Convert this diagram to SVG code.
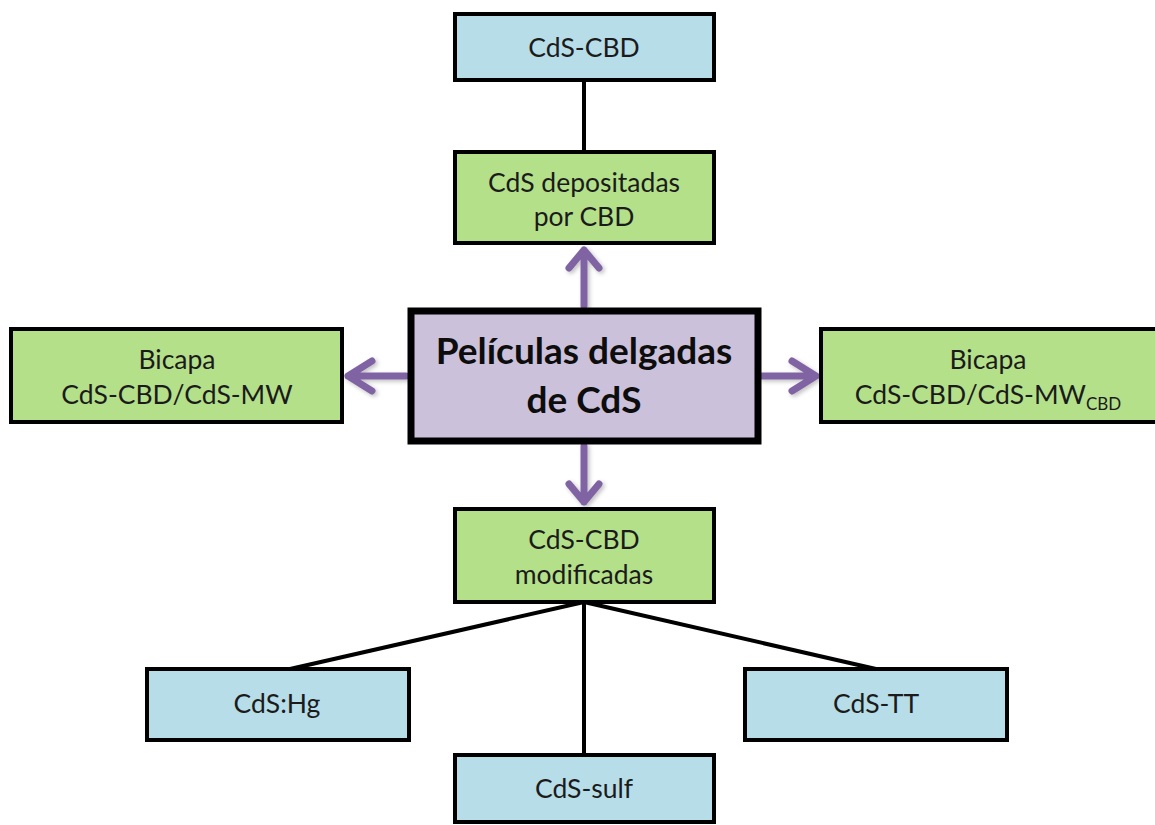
<svg xmlns="http://www.w3.org/2000/svg" width="1155" height="825" viewBox="0 0 1155 825">
  <defs>
    <style>
      .box { stroke: #000; stroke-width: 4; }
      .blue { fill: #b7dde8; }
      .green { fill: #b5e08a; }
      .main { fill: #ccc1da; stroke: #000; stroke-width: 7; }
      .t { font-family: Lato, "Open Sans", "Liberation Sans", sans-serif; font-size: 26.5px; fill: #1b1b1b; text-anchor: middle; }
      .tb { font-family: Lato, "Open Sans", "Liberation Sans", sans-serif; font-size: 37px; font-weight: bold; fill: #0d0d0d; text-anchor: middle; }
      .sub { font-size: 17px; }
      .link { stroke: #000; stroke-width: 4; fill: none; }
      .arrow { stroke: #8064a2; stroke-width: 7; fill: none; stroke-linecap: round; stroke-linejoin: round; }
    </style>
    <filter id="soft" x="-20%" y="-20%" width="140%" height="140%">
      <feDropShadow dx="2" dy="2" stdDeviation="2" flood-color="#000" flood-opacity="0.25"/>
    </filter>
  </defs>

  <rect width="1155" height="825" fill="#fff"/>

  <!-- connectors -->
  <g id="connectors">
    <line class="link" x1="584" y1="80" x2="584" y2="152"/>
    <line class="link" x1="584" y1="602" x2="290" y2="669"/>
    <line class="link" x1="584" y1="602" x2="584" y2="755"/>
    <line class="link" x1="584" y1="602" x2="876" y2="669"/>
    <g filter="url(#soft)">
      <path class="arrow" d="M584 306 V250 M569 268 L584 250 L599 268"/>
      <path class="arrow" d="M584 446 V502 M569 484 L584 502 L599 484"/>
      <path class="arrow" d="M406 376 H348 M372 361 L348 376 L372 391"/>
      <path class="arrow" d="M762 376 H816 M792 361 L816 376 L792 391"/>
    </g>
  </g>

  <g id="node-cds-cbd">
    <rect class="box blue" x="455" y="14" width="259" height="66"/>
    <text class="t" x="584" y="57">CdS-CBD</text>
  </g>

  <g id="node-depositadas">
    <rect class="box green" x="455" y="152" width="259" height="91"/>
    <text class="t" x="584" y="192">CdS depositadas</text>
    <text class="t" x="584" y="226">por CBD</text>
  </g>

  <g id="node-main">
    <rect class="main" x="411" y="311" width="347" height="130"/>
    <text class="tb" x="584" y="364">Películas delgadas</text>
    <text class="tb" x="584" y="413">de CdS</text>
  </g>

  <g id="node-bicapa-mw">
    <rect class="box green" x="11" y="329" width="331" height="93"/>
    <text class="t" x="177" y="369">Bicapa</text>
    <text class="t" x="177" y="404">CdS-CBD/CdS-MW</text>
  </g>

  <g id="node-bicapa-mwcbd">
    <rect class="box green" x="821" y="329" width="345" height="93"/>
    <text class="t" x="988" y="369">Bicapa</text>
    <text class="t" x="988" y="404">CdS-CBD/CdS-MW<tspan class="sub" dy="6">CBD</tspan></text>
  </g>

  <g id="node-modificadas">
    <rect class="box green" x="455" y="509" width="259" height="93"/>
    <text class="t" x="584" y="549">CdS-CBD</text>
    <text class="t" x="584" y="584">modificadas</text>
  </g>

  <g id="node-hg">
    <rect class="box blue" x="147" y="669" width="262" height="71"/>
    <text class="t" x="277" y="713">CdS:Hg</text>
  </g>

  <g id="node-sulf">
    <rect class="box blue" x="455" y="755" width="259" height="67"/>
    <text class="t" x="584" y="798">CdS-sulf</text>
  </g>

  <g id="node-tt">
    <rect class="box blue" x="745" y="669" width="262" height="71"/>
    <text class="t" x="876" y="713">CdS-TT</text>
  </g>
</svg>
